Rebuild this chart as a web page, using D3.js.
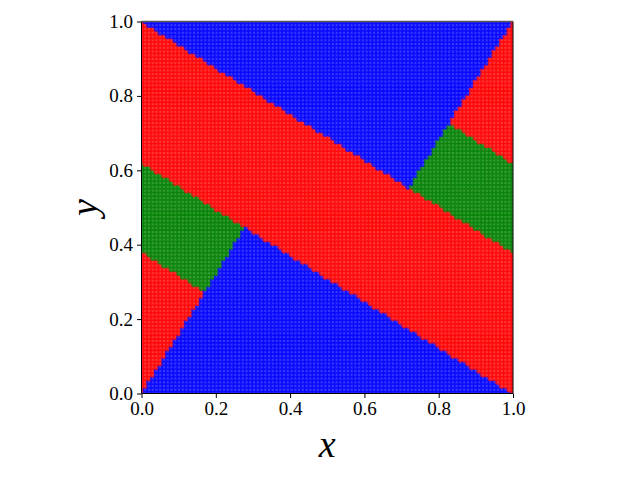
<!DOCTYPE html>
<html>
<head>
<meta charset="utf-8">
<script src="https://cdn.jsdelivr.net/npm/d3@7"></script>
<style>
  html, body { margin: 0; padding: 0; background: #fff; }
  svg { display: block; }
</style>
</head>
<body>
<svg id="chart" width="640" height="480"></svg>
<script>
// ---- data ----
const gridCount = 100;                       // points per side of the sampled grid
const xTicks = [0.0, 0.2, 0.4, 0.6, 0.8, 1.0];
const yTicks = [0.0, 0.2, 0.4, 0.6, 0.8, 1.0];
const classNames = ["red", "green", "blue"];
const classColors = ["#ff0000", "#008000", "#0000ff"];
// decision boundaries
// band lines: y + bandSlope*x = c
const bandSlope = 0.62;
const bandLevels = [0.38, 0.62, 1.0, 1.24];   // u thresholds
// steep lines: y - steepSlope*x = c
const steepSlope = 1.6;
const steepLevels = [-0.6, 0.0];

function classify(x, y) {
  const u = y + bandSlope * x;
  const t = y - steepSlope * x;
  if (u >= bandLevels[1] && u <= bandLevels[2]) return 0;          // central red band
  if (u > bandLevels[2]) {
    if (t > steepLevels[0]) return 2;                             // upper blue
    return u < bandLevels[3] ? 1 : 0;                             // upper-right green / red
  }
  if (t < steepLevels[1]) return 2;                               // lower blue
  return u > bandLevels[0] ? 1 : 0;                               // lower-left green / red
}

const points = [];
for (let i = 0; i < gridCount; i++) {
  for (let j = 0; j < gridCount; j++) {
    const x = i / (gridCount - 1), y = j / (gridCount - 1);
    points.push({x, y, c: classify(x, y)});
  }
}

// ---- layout ----
const svg = d3.select("#chart");
const pLeft = 141.5, pRight = 513, pTop = 21.5, pBottom = 393.5;
const xScale = d3.scaleLinear().domain([0, 1]).range([pLeft, pRight]);
const yScale = d3.scaleLinear().domain([0, 1]).range([pBottom, pTop]);
const color = d3.scaleOrdinal().domain([0, 1, 2]).range(classColors);

svg.append("defs").append("clipPath").attr("id", "clip")
  .append("rect").attr("x", pLeft).attr("y", pTop)
  .attr("width", pRight - pLeft).attr("height", pBottom - pTop);

svg.append("g").attr("clip-path", "url(#clip)")
  .selectAll("circle").data(points).join("circle")
  .attr("cx", d => xScale(d.x))
  .attr("cy", d => yScale(d.y))
  .attr("r", 2.8)
  .attr("fill", d => color(d.c))
  .attr("fill-opacity", 0.78);

const font = "'Liberation Serif', 'DejaVu Serif', serif";

const xAxis = svg.append("g").attr("transform", `translate(0,${pBottom})`)
  .call(d3.axisBottom(xScale).tickValues(xTicks).tickFormat(d3.format(".1f")).tickSize(4.5).tickPadding(4));
const yAxis = svg.append("g").attr("transform", `translate(${pLeft},0)`)
  .call(d3.axisLeft(yScale).tickValues(yTicks).tickFormat(d3.format(".1f")).tickSize(4.5).tickPadding(4));
[xAxis, yAxis].forEach(a => {
  a.select(".domain").remove();
  a.selectAll("line").attr("stroke", "#000").attr("stroke-width", 1);
  a.selectAll("text").attr("font-family", font).attr("font-size", 19).attr("fill", "#000");
});

// spines
svg.append("line").attr("x1", pLeft).attr("x2", pLeft).attr("y1", pTop).attr("y2", pBottom).attr("stroke", "#000");
svg.append("line").attr("x1", pRight).attr("x2", pRight).attr("y1", pTop).attr("y2", pBottom).attr("stroke", "#000");
svg.append("line").attr("x1", pLeft).attr("x2", pRight).attr("y1", pBottom).attr("y2", pBottom).attr("stroke", "#000");
svg.append("line").attr("x1", pLeft).attr("x2", pRight).attr("y1", pTop).attr("y2", pTop).attr("stroke", "#555").attr("stroke-width", 1.5);

// axis labels
svg.append("text").attr("x", (pLeft + pRight) / 2).attr("y", 457)
  .attr("text-anchor", "middle").attr("font-family", font).attr("font-style", "italic")
  .attr("font-size", 38).text("x");
svg.append("text").attr("transform", `translate(97,${(pTop + pBottom) / 2}) rotate(-90)`)
  .attr("text-anchor", "middle").attr("font-family", font).attr("font-style", "italic")
  .attr("font-size", 38).text("y");
</script>
</body>
</html>
